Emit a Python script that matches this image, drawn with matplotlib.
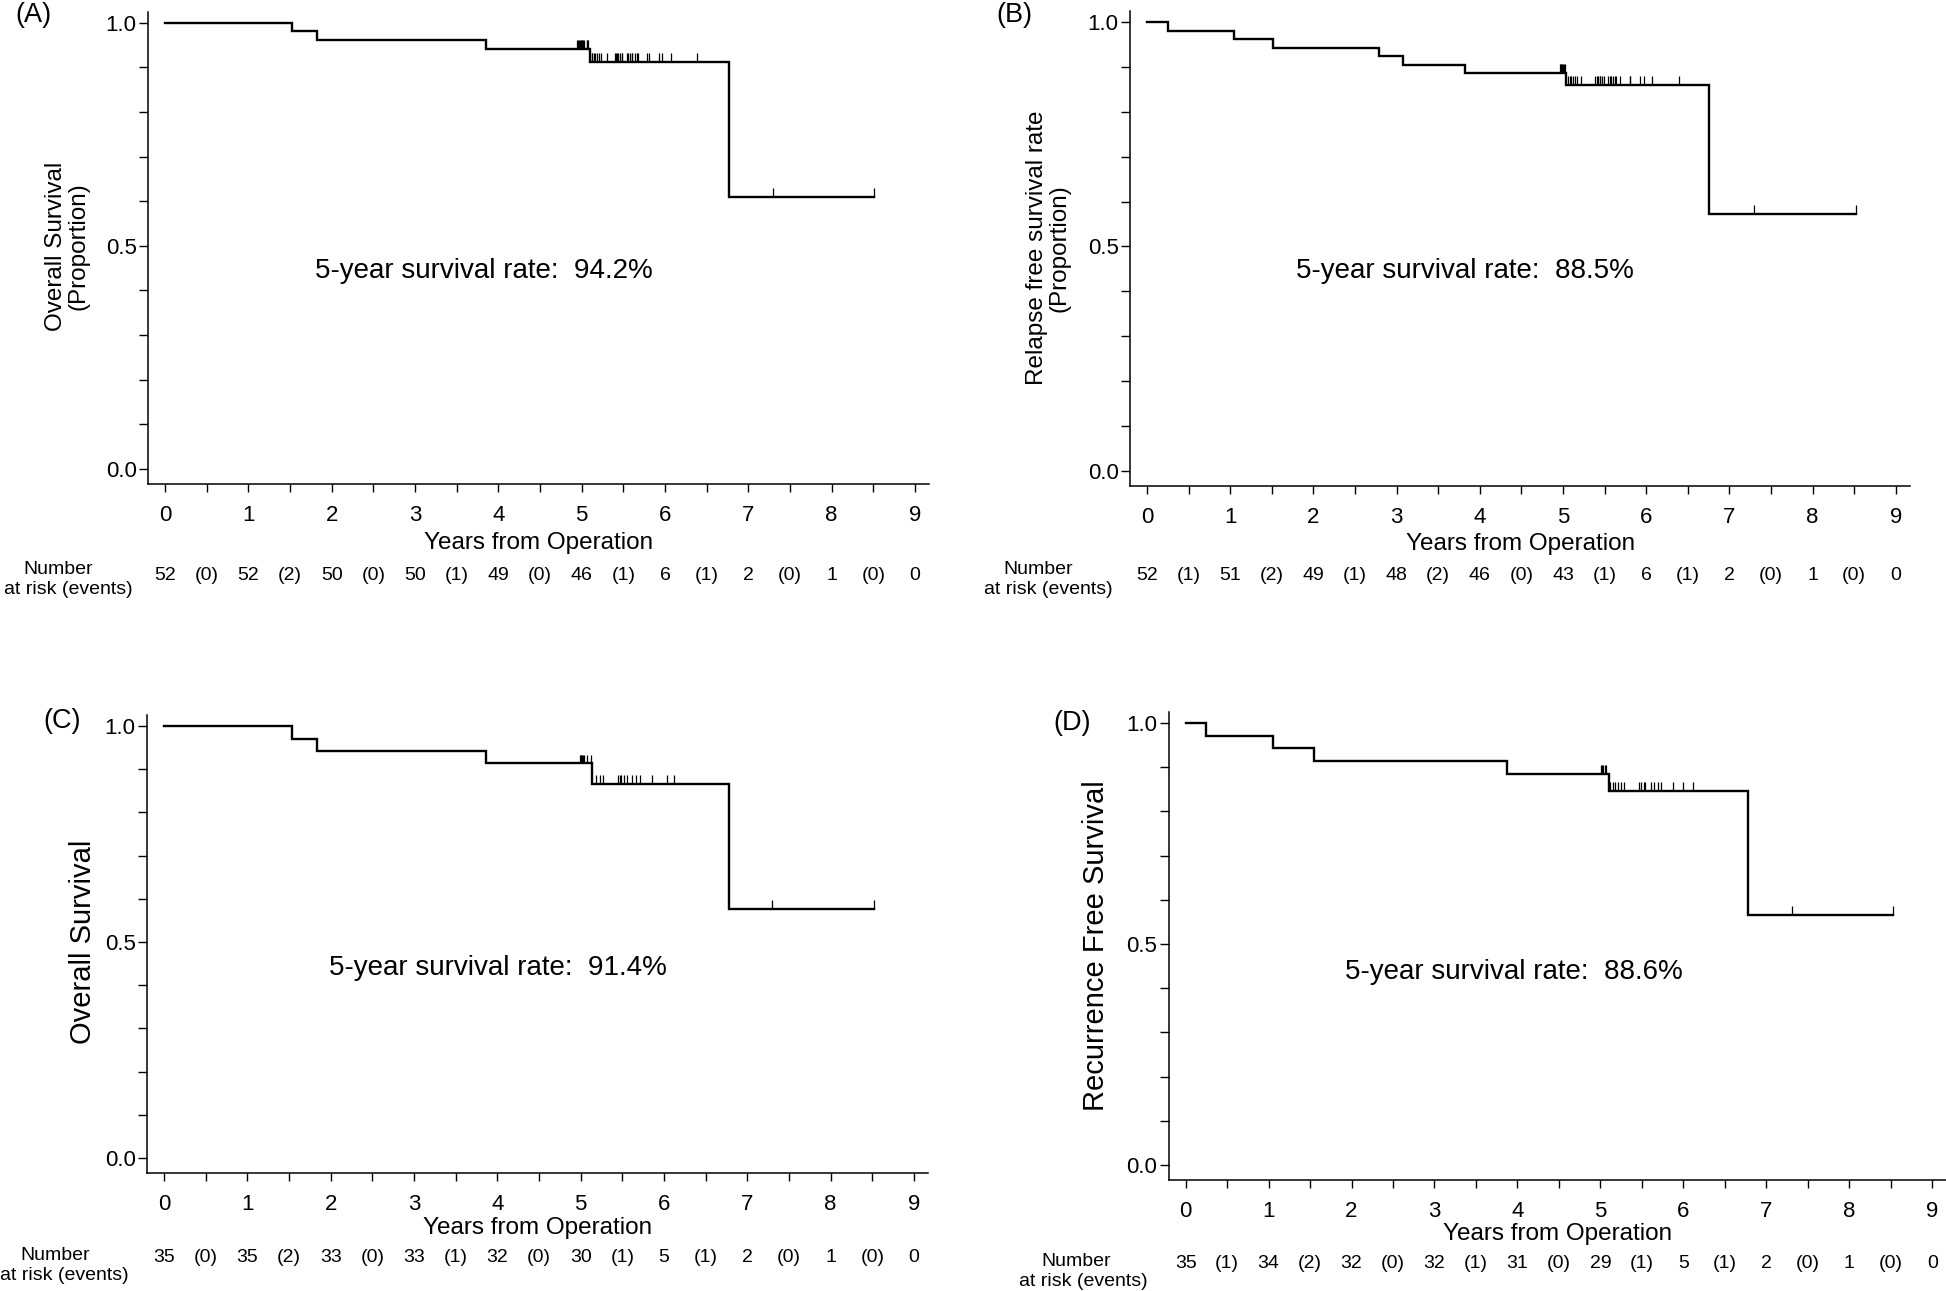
import matplotlib
matplotlib.use('Agg')
import matplotlib.pyplot as plt
import matplotlib.transforms as mtransforms
from matplotlib.ticker import MultipleLocator, FormatStrFormatter
import numpy as np

plt.rcParams['font.family'] = ['Liberation Sans', 'DejaVu Sans']

W, H, DPI = 1946, 1291, 100

# ---------------- data ----------------
years = [0, 1, 2, 3, 4, 5, 6, 7, 8, 9]

# Panel A: overall survival, cohort 1
a_event_times = [1.52, 1.82, 3.85, 5.10, 6.77]
a_surv = [1.0, 0.981, 0.962, 0.942, 0.913, 0.609]
a_end = 8.51
a_censor = [4.95, 4.96, 4.97, 4.98, 4.99, 5.00, 5.01, 5.02, 5.03, 5.06, 5.07, 5.08,
            5.12, 5.13, 5.15, 5.16, 5.19, 5.21, 5.23, 5.30, 5.40, 5.41, 5.43, 5.44,
            5.46, 5.48, 5.49, 5.55, 5.56, 5.58, 5.60, 5.61, 5.64, 5.66, 5.68, 5.79,
            5.81, 5.93, 5.97, 6.07, 6.38, 7.30, 8.51]
a_at_risk = [52, 52, 50, 50, 49, 46, 6, 2, 1, 0]
a_events = [0, 2, 0, 1, 0, 1, 1, 0, 0]
a_ylabel = "Overall Survival\n(Proportion)"
a_note = "5-year survival rate:  94.2%"

# Panel B: relapse free survival, cohort 1
b_event_times = [0.25, 1.04, 1.52, 2.79, 3.08, 3.82, 5.04, 6.75]
b_surv = [1.0, 0.981, 0.962, 0.943, 0.924, 0.905, 0.886, 0.860, 0.573]
b_end = 8.52
b_censor = [4.96, 4.97, 4.98, 4.99, 5.00, 5.01, 5.02,
            5.06, 5.08, 5.10, 5.12, 5.14, 5.17, 5.22, 5.39, 5.41, 5.42, 5.44, 5.45,
            5.47, 5.49, 5.54, 5.56, 5.58, 5.60, 5.62, 5.64, 5.68, 5.80, 5.81, 5.93,
            5.97, 6.07, 6.39, 7.30, 8.52]
b_at_risk = [52, 51, 49, 48, 46, 43, 6, 2, 1, 0]
b_events = [1, 2, 1, 2, 0, 1, 1, 0, 0]
b_ylabel = "Relapse free survival rate\n(Proportion)"
b_note = "5-year survival rate:  88.5%"

# Panel C: overall survival, cohort 2
c_event_times = [1.54, 1.84, 3.86, 5.14, 6.78]
c_surv = [1.0, 0.971, 0.943, 0.914, 0.866, 0.577]
c_end = 8.52
c_censor = [4.99, 5.00, 5.01, 5.02, 5.03, 5.04, 5.08, 5.12,
            5.18, 5.23, 5.27, 5.45, 5.47, 5.49, 5.52, 5.56, 5.62, 5.66, 5.71,
            5.86, 6.04, 6.12, 7.30, 8.52]
c_at_risk = [35, 35, 33, 33, 32, 30, 5, 2, 1, 0]
c_events = [0, 2, 0, 1, 0, 1, 1, 0, 0]
c_ylabel = "Overall Survival"
c_note = "5-year survival rate:  91.4%"

# Panel D: recurrence free survival, cohort 2
d_event_times = [0.25, 1.05, 1.55, 3.87, 5.10, 6.78]
d_surv = [1.0, 0.971, 0.943, 0.914, 0.885, 0.847, 0.565]
d_end = 8.53
d_censor = [5.01, 5.02, 5.03, 5.05, 5.07,
            5.12, 5.15, 5.18, 5.21, 5.25, 5.28, 5.47, 5.49, 5.52, 5.54, 5.61,
            5.65, 5.69, 5.73, 5.87, 5.99, 6.12, 7.31, 8.53]
d_at_risk = [35, 34, 32, 32, 31, 29, 5, 2, 1, 0]
d_events = [1, 2, 0, 1, 0, 1, 1, 0, 0]
d_ylabel = "Recurrence Free Survival"
d_note = "5-year survival rate:  88.6%"

# ---------------- layout ----------------
XLIM = (-0.2, 9.17)
YLIM = (-0.034, 1.025)

fig = plt.figure(figsize=(W / DPI, H / DPI), dpi=DPI)
fig.patch.set_facecolor('white')


def fx(x):
    return x / W


def fy(y):
    return 1 - y / H


def make_axes(x0, sx, y0, sy):
    left = x0 + XLIM[0] * sx
    right = x0 + XLIM[1] * sx
    bottom = y0 - YLIM[0] * sy
    top = y0 - YLIM[1] * sy
    ax = fig.add_axes([fx(left), fy(bottom), (right - left) / W, (bottom - top) / H])
    return ax


def panel(geom, event_times, surv, end, censor, at_risk, events, ylabel, note,
          letter, letter_xy, ylab_xy, ylab_size, note_xy, xlab_y, risk_y,
          num_xy, atrisk_xy):
    ax = make_axes(*geom)
    xs = [0] + list(event_times) + [end]
    ys = list(surv) + [surv[-1]]
    ax.step(xs, ys, where='post', color='black', lw=1.7, solid_joinstyle='miter')
    idx = np.searchsorted(event_times, censor, side='right')
    cy = np.array(surv)[idx]
    ax.vlines(censor, cy, cy + 0.02, color='black', lw=0.9)

    ax.set_xlim(*XLIM)
    ax.set_ylim(*YLIM)
    for s in ['top', 'right']:
        ax.spines[s].set_visible(False)
    for s in ['left', 'bottom']:
        ax.spines[s].set_linewidth(1.1)
    ax.xaxis.set_major_locator(MultipleLocator(1))
    ax.xaxis.set_minor_locator(MultipleLocator(0.5))
    ax.yaxis.set_major_locator(MultipleLocator(0.5))
    ax.yaxis.set_minor_locator(MultipleLocator(0.1))
    ax.yaxis.set_major_formatter(FormatStrFormatter('%.1f'))
    ax.set_xticks(years)
    ax.tick_params(axis='both', which='both', direction='out', width=1.0, color='black')
    ax.tick_params(axis='x', which='both', length=6)
    ax.tick_params(axis='y', which='both', length=6.5)
    ax.tick_params(axis='x', which='major', labelsize=16, pad=9)
    ax.tick_params(axis='y', which='major', labelsize=16, pad=2)

    # note
    ax.text(note_xy[0], note_xy[1], note, fontsize=20, ha='center', va='center')

    # x label
    tr = mtransforms.blended_transform_factory(ax.transAxes, fig.transFigure)
    ax.text(0.5, fy(xlab_y), "Years from Operation", transform=tr, fontsize=17.5,
            ha='center', va='center')

    # y label
    fig.text(fx(ylab_xy[0]), fy(ylab_xy[1]), ylabel, rotation=90, fontsize=ylab_size,
             ha='center', va='center', multialignment='center', linespacing=1.05)

    # panel letter
    fig.text(fx(letter_xy[0]), fy(letter_xy[1]), letter, fontsize=19.5,
             ha='center', va='center')

    # risk table
    trd = mtransforms.blended_transform_factory(ax.transData, fig.transFigure)
    for i, n in enumerate(at_risk):
        ax.text(years[i], fy(risk_y), str(n), transform=trd, fontsize=14,
                ha='center', va='center', clip_on=False)
    for i, e in enumerate(events):
        ax.text(years[i] + 0.5, fy(risk_y), f"({e})", transform=trd, fontsize=14,
                ha='center', va='center', clip_on=False)
    fig.text(fx(num_xy[0]), fy(num_xy[1]), "Number", fontsize=14, ha='center', va='center')
    fig.text(fx(atrisk_xy[0]), fy(atrisk_xy[1]), "at risk (events)", fontsize=14,
             ha='center', va='center')
    return ax


panel((165, 83.33, 469, 446.3), a_event_times, a_surv, a_end, a_censor,
      a_at_risk, a_events, a_ylabel, a_note, "(A)", (33, 15), (67, 246), 17.5,
      (3.83, 0.444), 543, 575, (58, 569), (68, 589))
panel((1147, 83.2, 471, 449), b_event_times, b_surv, b_end, b_censor,
      b_at_risk, b_events, b_ylabel, b_note, "(B)", (1014, 15), (1048, 248), 17.5,
      (3.82, 0.445), 544, 575, (1038, 569), (1048, 589))
panel((164, 83.33, 1158, 432), c_event_times, c_surv, c_end, c_censor,
      c_at_risk, c_events, c_ylabel, c_note, "(C)", (62, 721), (83, 942), 21,
      (4.01, 0.44), 1228, 1257, (55, 1256), (64, 1275))
panel((1185.6, 82.96, 1165, 442), d_event_times, d_surv, d_end, d_censor,
      d_at_risk, d_events, d_ylabel, d_note, "(D)", (1072, 723), (1096, 946), 21,
      (3.96, 0.437), 1234, 1263, (1076, 1262), (1083, 1281))

fig.savefig('out.png', dpi=DPI, facecolor='white')
